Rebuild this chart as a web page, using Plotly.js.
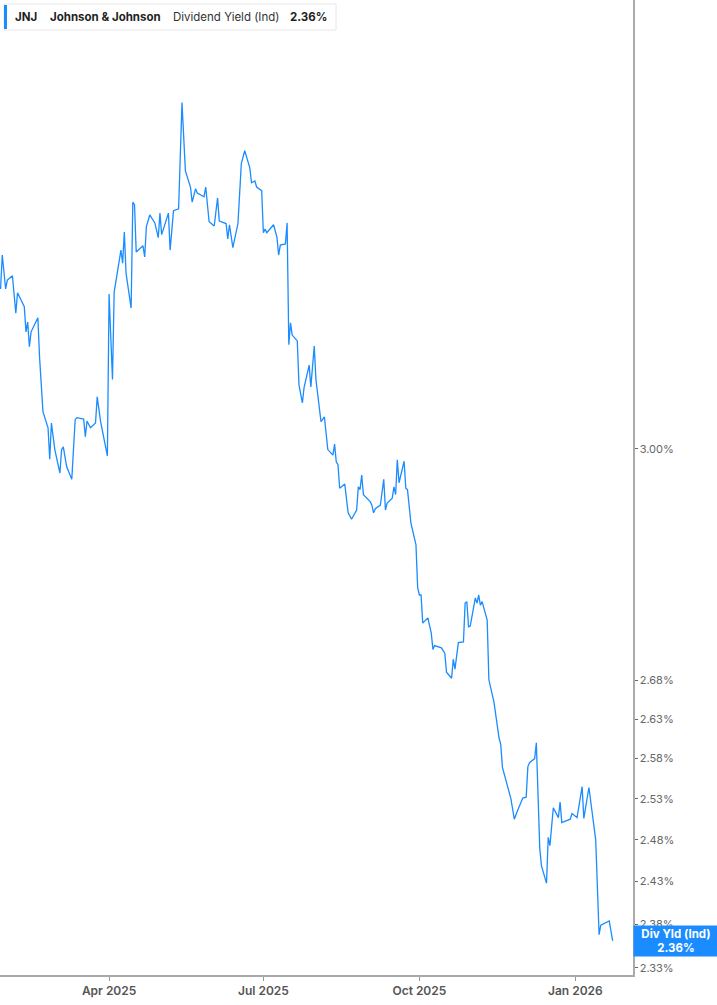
<!DOCTYPE html>
<html>
<head>
<meta charset="utf-8">
<script src="https://cdn.plot.ly/plotly-3.0.1.min.js"></script>
<style>
  html, body { margin: 0; padding: 0; background: #fff; }
  #chart { width: 717px; height: 1005px; }
</style>
</head>
<body>
<div id="chart"></div>
<script>
/* JNJ dividend yield (indicated), daily, Jan 2025 - Jan 2026.
   Values in percent. */

const dates = [
  "2025-01-27","2025-01-28","2025-01-30","2025-01-31","2025-02-03","2025-02-05","2025-02-06","2025-02-10",
  "2025-02-11","2025-02-12","2025-02-13","2025-02-14","2025-02-18","2025-02-19","2025-02-21","2025-02-24",
  "2025-02-25","2025-02-26","2025-02-28","2025-03-03","2025-03-04","2025-03-05","2025-03-07","2025-03-10",
  "2025-03-12","2025-03-13","2025-03-17","2025-03-18","2025-03-19","2025-03-21","2025-03-24","2025-03-25",
  "2025-03-27","2025-03-31","2025-04-01","2025-04-03","2025-04-04","2025-04-07","2025-04-08","2025-04-09",
  "2025-04-10","2025-04-11","2025-04-14","2025-04-15","2025-04-16","2025-04-17","2025-04-21","2025-04-22",
  "2025-04-23","2025-04-25","2025-04-28","2025-04-30","2025-05-01","2025-05-02","2025-05-06","2025-05-07",
  "2025-05-09","2025-05-12","2025-05-14","2025-05-16","2025-05-19","2025-05-20","2025-05-22","2025-05-23",
  "2025-05-27","2025-05-28","2025-05-30","2025-06-02","2025-06-04","2025-06-05","2025-06-09","2025-06-10",
  "2025-06-11","2025-06-13","2025-06-16","2025-06-18","2025-06-20","2025-06-23","2025-06-24","2025-06-26",
  "2025-06-27","2025-06-30","2025-07-01","2025-07-02","2025-07-03","2025-07-07","2025-07-09","2025-07-10",
  "2025-07-11","2025-07-14","2025-07-15","2025-07-16","2025-07-17","2025-07-18","2025-07-21","2025-07-22",
  "2025-07-24","2025-07-25","2025-07-28","2025-07-29","2025-07-31","2025-08-01","2025-08-04","2025-08-06",
  "2025-08-08","2025-08-11","2025-08-12","2025-08-13","2025-08-14","2025-08-15","2025-08-18","2025-08-20",
  "2025-08-22","2025-08-25","2025-08-26","2025-08-27","2025-08-28","2025-08-29","2025-09-02","2025-09-03",
  "2025-09-04","2025-09-05","2025-09-08","2025-09-10","2025-09-11","2025-09-12","2025-09-15","2025-09-16",
  "2025-09-17","2025-09-18","2025-09-19","2025-09-22","2025-09-23","2025-09-24","2025-09-26","2025-09-29",
  "2025-09-30","2025-10-01","2025-10-02","2025-10-03","2025-10-06","2025-10-08","2025-10-09","2025-10-10",
  "2025-10-14","2025-10-16","2025-10-17","2025-10-20","2025-10-21","2025-10-22","2025-10-24","2025-10-27",
  "2025-10-28","2025-10-29","2025-10-30","2025-10-31","2025-11-03","2025-11-04","2025-11-05","2025-11-06",
  "2025-11-07","2025-11-10","2025-11-11","2025-11-14","2025-11-17","2025-11-18","2025-11-19","2025-11-24",
  "2025-11-26","2025-11-28","2025-12-01","2025-12-03","2025-12-04","2025-12-05","2025-12-08","2025-12-09",
  "2025-12-10","2025-12-11","2025-12-12","2025-12-15","2025-12-16","2025-12-17","2025-12-19","2025-12-22",
  "2025-12-23","2025-12-24","2025-12-29","2025-12-30","2026-01-02","2026-01-05","2026-01-06","2026-01-09",
  "2026-01-13","2026-01-15","2026-01-16","2026-01-21","2026-01-23"
];

const yieldPct = [
  3.243,3.297,3.243,3.257,3.264,3.205,3.237,3.215,
  3.176,3.191,3.153,3.176,3.198,3.137,3.055,3.031,
  2.985,3.038,2.999,2.965,2.999,3.003,2.974,2.956,
  3.043,3.046,3.044,3.018,3.041,3.031,3.038,3.077,
  3.040,2.990,3.235,3.103,3.238,3.286,3.305,3.284,
  3.334,3.268,3.213,3.383,3.379,3.302,3.312,3.294,
  3.343,3.362,3.349,3.325,3.365,3.330,3.365,3.305,
  3.369,3.372,3.551,3.435,3.408,3.383,3.405,3.398,
  3.392,3.408,3.351,3.344,3.390,3.352,3.348,3.323,
  3.346,3.309,3.348,3.447,3.469,3.440,3.415,3.418,
  3.408,3.402,3.333,3.339,3.333,3.346,3.326,3.297,
  3.313,3.315,3.349,3.156,3.190,3.171,3.162,3.095,
  3.068,3.091,3.125,3.092,3.154,3.103,3.040,3.047,
  2.999,2.991,3.007,2.981,2.977,2.943,2.949,2.908,
  2.899,2.912,2.945,2.941,2.962,2.934,2.924,2.919,
  2.908,2.914,2.919,2.956,2.912,2.922,2.929,2.945,
  2.934,2.984,2.951,2.982,2.943,2.941,2.894,2.863,
  2.804,2.794,2.794,2.756,2.763,2.743,2.721,2.726,
  2.723,2.716,2.691,2.683,2.708,2.695,2.730,2.731,
  2.783,2.785,2.751,2.752,2.790,2.783,2.794,2.780,
  2.785,2.760,2.681,2.652,2.606,2.598,2.569,2.530,
  2.505,2.516,2.531,2.532,2.570,2.575,2.580,2.600,
  2.516,2.470,2.449,2.428,2.483,2.473,2.519,2.507,
  2.526,2.501,2.505,2.512,2.507,2.545,2.506,2.544,
  2.480,2.368,2.379,2.384,2.361
];

// right-axis ticks (log scale)
const yTicks = [2.33, 2.38, 2.43, 2.48, 2.53, 2.58, 2.63, 2.68, 3.00];
const xTicks = ["2025-04-01", "2025-07-01", "2025-10-01", "2026-01-01"];
const xTickText = ["Apr 2025", "Jul 2025", "Oct 2025", "Jan 2026"];

const BLUE = "#1a8cff";
const FONT = "Inter, 'Open Sans', sans-serif";

// plot area in pixels (for the overlay header box)
const W = 717, H = 1005, M = { l: 0, r: 84, t: 0, b: 30 };
const PW = W - M.l - M.r, PH = H - M.t - M.b;
const px = v => v / PW;
const py = v => 1 - v / PH;

const last = yieldPct[yieldPct.length - 1];
const lastTxt = last.toFixed(2) + "%";

const header = [
  { text: "<b>JNJ</b>", x: 13, color: "#1f1f1f" },
  { text: "<b>Johnson &amp; Johnson</b>", x: 48, color: "#1f1f1f" },
  { text: "Dividend Yield (Ind)", x: 171, color: "#333" },
  { text: "<b>" + lastTxt + "</b>", x: 288, color: "#1f1f1f" },
];

Plotly.newPlot("chart", [{
  type: "scatter", mode: "lines",
  x: dates, y: yieldPct,
  line: { color: BLUE, width: 1.3 },
  hovertemplate: "%{x|%b %d, %Y}<br>%{y:.2f}%<extra></extra>",
}], {
  width: W, height: H,
  margin: M,
  paper_bgcolor: "#fff", plot_bgcolor: "#fff",
  showlegend: false,
  font: { family: FONT, color: "#555" },
  xaxis: {
    type: "date",
    range: ["2025-01-26 16:00", "2026-02-04"],
    tickvals: xTicks, ticktext: xTickText,
    ticks: "outside", ticklen: 4, tickcolor: "#999", tickwidth: 1,
    showline: true, linecolor: "#aaa", linewidth: 2,
    showgrid: false, zeroline: false,
    tickfont: { size: 12, color: "#555", weight: 600 },
  },
  yaxis: {
    type: "log", side: "right",
    range: [Math.log10(2.322), Math.log10(3.733)],
    tickvals: yTicks, ticktext: yTicks.map(v => v.toFixed(2) + "%"),
    ticks: "outside", ticklen: 3, tickcolor: "#666",
    showline: true, linecolor: "#aaa", linewidth: 1.5,
    showgrid: false, zeroline: false,
    tickfont: { size: 11, color: "#666" },
  },
  shapes: [
    { type: "rect", xref: "paper", yref: "paper",
      x0: px(4), x1: px(336), y0: py(30), y1: py(4),
      fillcolor: "#fff", line: { color: "#e6e6e6", width: 1 } },
    { type: "rect", xref: "paper", yref: "paper",
      x0: px(4), x1: px(7), y0: py(29), y1: py(5),
      fillcolor: BLUE, line: { width: 0 } },
  ],
  annotations: header.map(h => ({
    text: h.text, xref: "paper", yref: "paper",
    x: px(h.x), y: py(17), xanchor: "left", yanchor: "middle",
    showarrow: false, font: { family: FONT, size: 11.5, color: h.color },
  })).concat([{
    text: "<b>Div Yld (Ind)</b><br><b>" + lastTxt + "</b>",
    xref: "paper", yref: "y",
    x: 1, y: Math.log10(last), xanchor: "left", yanchor: "middle",
    showarrow: false, align: "center",
    width: 80, height: 26, borderpad: 2,
    bgcolor: BLUE, font: { family: FONT, size: 11.5, color: "#fff" },
  }]),
}, { displayModeBar: false, staticPlot: true });
</script>
</body>
</html>
